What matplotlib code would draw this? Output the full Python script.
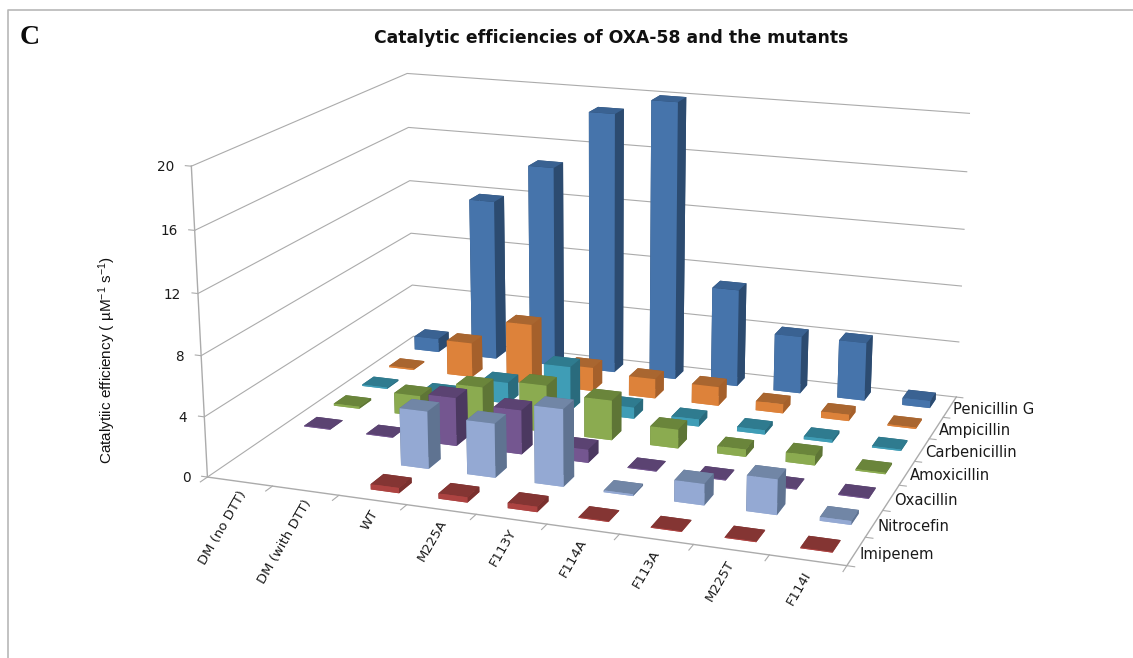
import numpy as np
import matplotlib
matplotlib.use('Agg')
import matplotlib.pyplot as plt
from matplotlib.lines import Line2D
from mpl_toolkits.mplot3d import proj3d

plt.rcParams['mathtext.default'] = 'regular'

# 突變株與基質
mutants = ['DM (no DTT)', 'DM (with DTT)', 'WT', 'M225A', 'F113Y', 'F114A', 'F113A', 'M225T', 'F114I']
substrates = ['Imipenem', 'Nitrocefin', 'Oxacillin', 'Amoxicillin', 'Carbenicillin', 'Ampicillin', 'Penicillin G']

# 催化效率, nan = 沒有資料
imipenem = [np.nan, np.nan, 0.35, 0.35, 0.35, 0.05, 0.05, 0.05, 0.05]
nitrocefin = [np.nan, np.nan, 3.85, 3.6, 5.1, 0.12, 1.4, 2.3, 0.25]
oxacillin = [0.05, 0.05, 3.3, 3.0, 0.9, 0.05, 0.05, 0.05, 0.05]
amoxicillin = [0.15, 1.45, 2.6, 3.25, 2.75, 1.3, 0.5, 0.65, 0.1]
carbenicillin = [0.1, 0.15, 1.5, 3.15, 0.8, 0.5, 0.3, 0.2, 0.1]
ampicillin = [0.1, 2.5, 4.35, 1.7, 1.4, 1.35, 0.65, 0.45, 0.1]
penicillin_g = [1.0, 11.75, 14.6, 18.8, 19.95, 7.0, 4.1, 4.15, 0.5]
values = [imipenem, nitrocefin, oxacillin, amoxicillin, carbenicillin, ampicillin, penicillin_g]

# 每個系列的 (正面, 頂面, 側面) 顏色
bar_colors = [
    ('#AD4341', '#843533', '#7A302E'),
    ('#94A9D3', '#7186A6', '#5F7391'),
    ('#745690', '#5B4372', '#4B3860'),
    ('#8BAB50', '#6A853B', '#5E7536'),
    ('#3F9DB6', '#2F7B8F', '#2A6B7D'),
    ('#DD823A', '#A96630', '#A5602B'),
    ('#4674AB', '#3A6292', '#2C4B70'),
]

z_ticks = [0, 4, 8, 12, 16, 20]
z_max = 20
bar_w = 0.42
bar_d = 0.42
bar_dx = 0.02
bar_dy = 0.06
grid_color = '#ABABAB'
text_color = '#1A1A1A'
tick_font = ['DejaVu Sans']
W, H = 1133, 658

fig = plt.figure(figsize=(W / 100, H / 100), dpi=100)
ax = fig.add_axes([173.86 / W, -57.94 / H, 830.27 / W, 830.27 / H], projection='3d', computed_zorder=False)
nx, ny = len(mutants), len(substrates)
ax.set_xlim(0, nx, view_margin=0)
ax.set_ylim(0, ny, view_margin=0)
ax.set_zlim(0, z_max, view_margin=0)
ax.view_init(elev=16.337, azim=-70.112, roll=0)
ax.set_proj_type('persp', focal_length=0.5081)
ax.set_box_aspect((1.6925, 1.2853, 0.8236))
ax.set_axis_off()


def label3d(x, y, z, s, dx=0, dy=0, **kw):
    # 先投影到 2D 再標註, Text3D 會蓋掉 rotation
    X, Y, _ = proj3d.proj_transform(x, y, z, ax.get_proj())
    ax.annotate(s, xy=(X, Y), xytext=(dx, dy), textcoords='offset pixels', color=text_color,
                family=tick_font, zorder=500, annotation_clip=False, **kw)


# 左牆與後牆的格線
for z in z_ticks:
    ax.plot([0, 0, nx], [0, ny, ny], [z, z, z], color=grid_color, lw=0.8, zorder=1)
    ax.plot([0, -0.09], [0, 0], [z, z], color=grid_color, lw=0.8, zorder=1)
    label3d(0, 0, z, str(z), dx=-17, dy=-1, ha='right', va='center', fontsize=9.8)

# 軸線與刻度
ax.plot([0, 0], [0, 0], [0, z_max], color=grid_color, lw=1.0, zorder=1)
ax.plot([0, nx, nx], [0, 0, ny], [0, 0, 0], color=grid_color, lw=1.0, zorder=1)
for i in range(nx + 1):
    ax.plot([i, i], [0, -0.2], [0, 0], color=grid_color, lw=0.8, zorder=1)
for j in range(ny + 1):
    ax.plot([nx, nx + 0.1], [j, j], [0, 0], color=grid_color, lw=0.8, zorder=1)

# 由後往前畫長條, 同一排由左往右
for j in range(ny - 1, -1, -1):
    for i in range(nx):
        v = values[j][i]
        if np.isnan(v):
            continue
        front, top, side = bar_colors[j]
        # bar3d 面的順序: -z, +z, -y, +y, -x, +x
        faces = [front, top, front, side, side, side]
        ax.bar3d(i + (1 - bar_w) / 2 + bar_dx, j + (1 - bar_d) / 2 + bar_dy, 0, bar_w, bar_d, v, color=faces,
                 shade=False, linewidth=0, zorder=10 + (ny - j) * 20 + i)

# 類別標籤
for i, name in enumerate(mutants):
    label3d(i + 0.5, -0.3, 0, name, dx=14 - i, dy=-3, rotation=60, ha='right', va='center',
            rotation_mode='anchor', fontsize=9.5)
for j, name in enumerate(substrates):
    label3d(nx + 0.06, j + 0.42, 0, name, ha='left', va='center', fontsize=10.6)

# 標題與文字
fig.text(611 / W, 1 - 38 / H, 'Catalytic efficiencies of OXA-58 and the mutants', ha='center', va='center',
         fontsize=12.4, fontweight='bold', family=['DejaVu Sans'], color='#111111')
fig.text(20 / W, 1 - 37 / H, 'C', ha='left', va='center', fontsize=20, fontweight='bold',
         family=['Liberation Serif', 'DejaVu Serif'], color='#0B0B0B')
fig.text(107 / W, 1 - 360 / H, 'Catalytiic efficiency ( µM$^{-1}$ s$^{-1}$)', rotation=90, ha='center', va='center',
         fontsize=11, family=['Liberation Sans Narrow', 'Liberation Sans'], color='#111111')

# 外框
fig.add_artist(Line2D([8 / W, 8 / W, 1], [0, 1 - 10 / H, 1 - 10 / H], color='#B8B8B8', lw=1.2))

fig.savefig('out.png', dpi=100)
